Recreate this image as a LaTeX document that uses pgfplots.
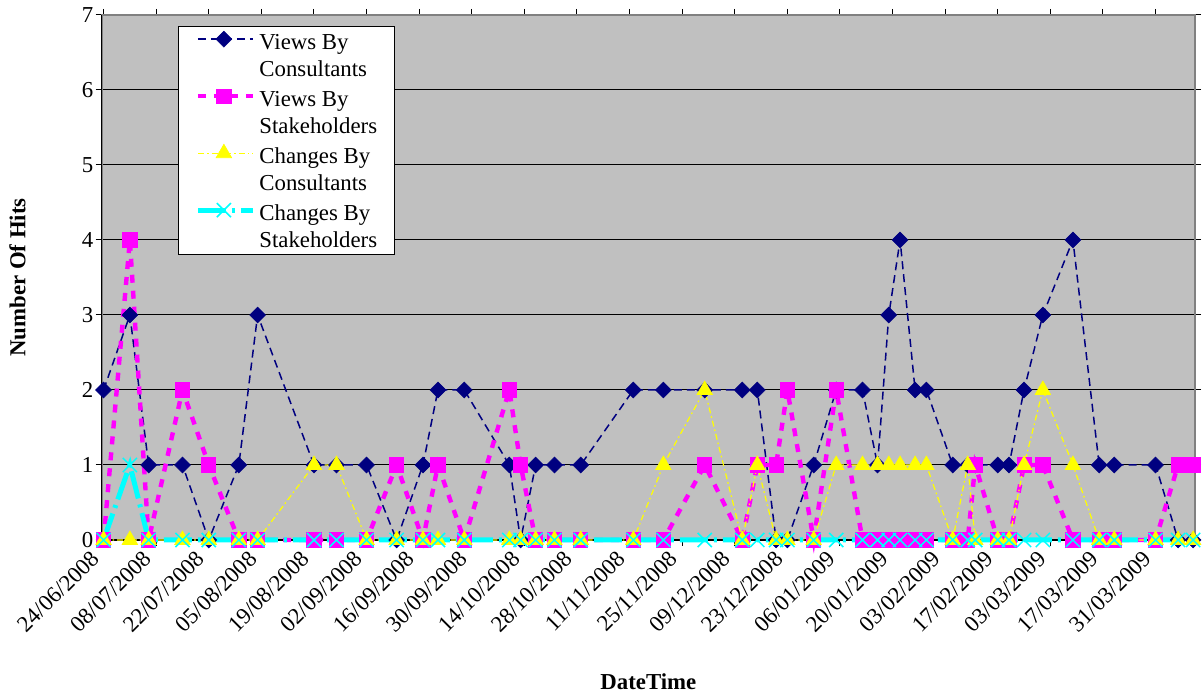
\documentclass[border=0pt]{standalone}
\usepackage{fontspec}
\setmainfont{Liberation Serif}
\usepackage{pgfplots}
\pgfplotsset{compat=1.18}
\usepackage{pgfplotstable}
\definecolor{vcnavy}{RGB}{0,0,128}
\definecolor{vsmag}{RGB}{255,0,255}
\definecolor{ccyel}{RGB}{255,255,0}
\definecolor{cscyan}{RGB}{0,255,255}
\definecolor{bggray}{RGB}{192,192,192}
\definecolor{framegray}{RGB}{128,128,128}
\newcommand\ff{\fontsize{11.4}{13.5}\selectfont}
% d = days since 24/06/2008
\pgfplotstableread{
d vc vs cc cs
0 2 0 0 0
7 3 4 0 1
12 1 0 0 0
21 1 2 0 0
28 0 1 0 0
36 1 0 0 0
41 3 0 0 0
56 1 0 1 0
62 1 0 1 0
70 1 0 0 0
78 0 1 0 0
85 1 0 0 0
89 2 1 0 0
96 2 0 0 0
108 1 2 0 0
111 0 1 0 0
115 1 0 0 0
120 1 0 0 0
127 1 0 0 0
141 2 0 0 0
149 2 0 1 0
160 2 1 2 0
170 2 0 0 0
174 2 1 1 0
179 0 1 0 0
182 0 2 0 0
189 1 0 0 0
195 2 2 1 0
202 2 0 1 0
206 1 0 1 0
209 3 0 1 0
212 4 0 1 0
216 2 0 1 0
219 2 0 1 0
226 1 0 0 0
230 1 0 1 0
232 1 1 0 0
238 1 0 0 0
241 1 0 0 0
245 2 1 1 0
250 3 1 2 0
258 4 0 1 0
265 1 0 0 0
269 1 0 0 0
280 1 0 0 0
286 0 1 0 0
290 0 1 0 0
}\hits
\begin{document}
\begin{tikzpicture}
\useasboundingbox (-50.85pt,-77pt) rectangle (551.15pt,270pt);
\begin{axis}[
  scale only axis, width=546.65pt, height=262.5pt,
  at={(0,0)}, anchor=south west,
  xmin=-0.5, xmax=290.5, ymin=0, ymax=7,
  xtick={0,14,...,280},
  xticklabels={24/06/2008,08/07/2008,22/07/2008,05/08/2008,19/08/2008,02/09/2008,16/09/2008,30/09/2008,14/10/2008,28/10/2008,11/11/2008,25/11/2008,09/12/2008,23/12/2008,06/01/2009,20/01/2009,03/02/2009,17/02/2009,03/03/2009,17/03/2009,31/03/2009},
  ytick={0,1,...,7},
  tick align=outside, major tick length=3pt,
  tick style={black, line width=0.5pt},
  ymajorgrids, major grid style={black, line width=0.5pt},
  axis background/.style={fill=bggray},
  axis line style={framegray, line width=0.8pt},
  /pgf/number format/assume math mode=true,
  tick label style={font=\ff},
  xticklabel style={xshift=-7pt, rotate=45, anchor=north east, inner sep=1pt},
  yticklabel style={inner sep=1pt},
  xlabel={DateTime}, ylabel={Number Of Hits},
  label style={font=\bfseries\ff},
  xlabel style={at={(axis description cs:0.5,-0.27)}, anchor=center},
  ylabel style={at={(axis description cs:-0.077,0.5)}, anchor=center},
  clip=false,
  legend cell align=left,
  legend style={at={(axis description cs:0.0698,0.979)}, anchor=north west,
    draw=black, fill=white, inner xsep=8.5pt, inner ysep=2pt,
    row sep=4pt, column sep=2pt, font=\ff,
    nodes={align=left, inner sep=0pt}},
  legend image code/.code={\draw[mark repeat=2, mark phase=2, #1, yshift=7.85pt] plot coordinates {(0pt,0pt) (13pt,0pt) (27.5pt,0pt)};},
]
\draw[black, line width=0.6pt] (rel axis cs:0,1) -- (rel axis cs:0,0) -- (rel axis cs:1,0);
\addplot[vcnavy, line width=0.75pt, dash pattern=on 4pt off 2.5pt,
  mark=square*, mark size=2.8pt,
  mark options={solid, rotate=45, fill=vcnavy, line width=0.3pt}]
  table[x=d, y=vc]{\hits};
\addlegendentry{\strut Views By\\\strut Consultants}
\addplot[vsmag, line width=2.2pt, dash pattern=on 4pt off 4pt,
  mark=square*, mark size=3.55pt,
  mark options={solid, fill=vsmag, line width=0.4pt}]
  table[x=d, y=vs]{\hits};
\addlegendentry{\strut Views By\\\strut Stakeholders}
\addplot[ccyel, line width=0.6pt, dash pattern=on 3pt off 1.5pt on 0.8pt off 1.5pt,
  mark=triangle*, mark size=4.5pt,
  mark options={solid, fill=ccyel, line width=0.3pt}]
  table[x=d, y=cc]{\hits};
\addlegendentry{\strut Changes By\\\strut Consultants}
\addplot[cscyan, line width=2.5pt, dash pattern=on 14pt off 3pt on 1.5pt off 3pt,
  mark=x, mark size=5pt,
  mark options={solid, line width=0.75pt}]
  table[x=d, y=cs]{\hits};
\addlegendentry{\strut Changes By\\\strut Stakeholders}
\end{axis}
\end{tikzpicture}
\end{document}
